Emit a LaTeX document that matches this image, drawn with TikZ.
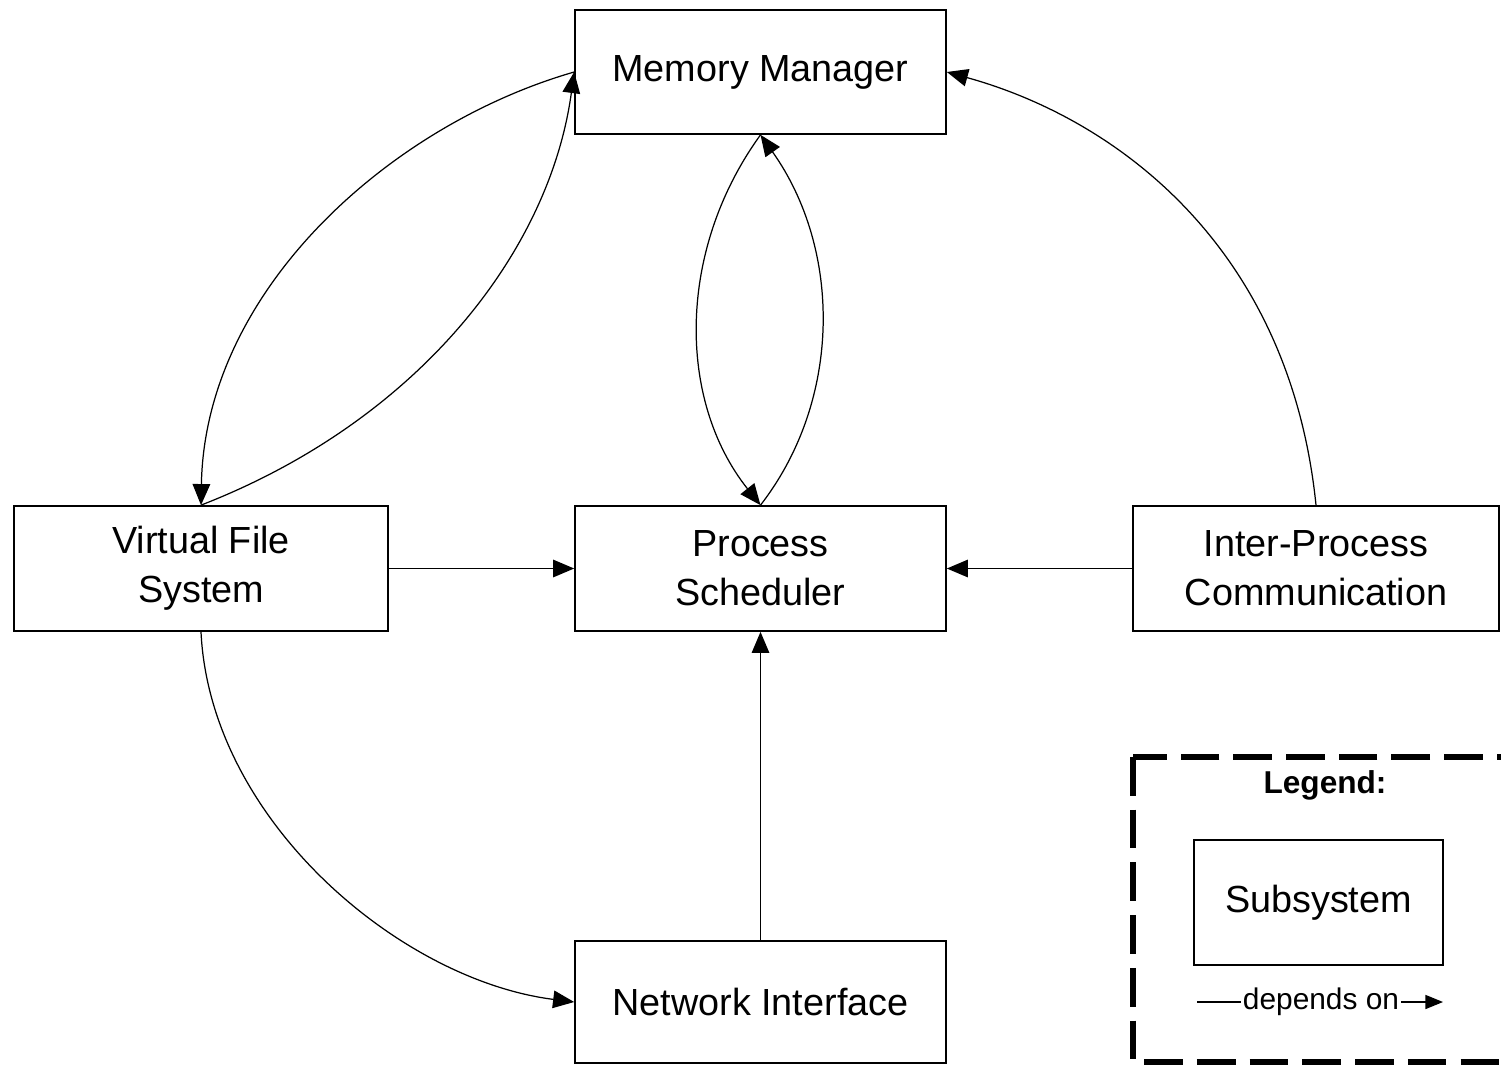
\documentclass[tikz,border=0pt]{standalone}
\usepackage{fontspec}
\setmainfont{Liberation Sans}
\usetikzlibrary{arrows.meta,calc}
\begin{document}
\begin{tikzpicture}[x=0.02cm,y=-0.02cm,
  sub/.style={draw,line width=1pt,inner sep=0pt,align=center,
    font=\fontsize{21.5}{28}\selectfont,minimum width=7.42cm,minimum height=2.5cm},
  arr/.style={line width=0.7pt,-{Triangle[length=12pt,width=10pt]}},
  legendbox/.style={line width=3pt,dash pattern=on 22pt off 8pt}]
\useasboundingbox (0,0) rectangle (1501,1065);
\clip (0,0) rectangle (1501,1065);
\node[sub,minimum height=2.48cm] (mm) at (760.5,72) {Memory Manager};
\node[sub,minimum width=7.48cm] (vfs) at (201,568.5) {Virtual File\\System};
\node[sub] (ps) at (760.5,568.5) {Process\\Scheduler};
\node[sub,minimum width=7.32cm] (ipc) at (1316,568.5) {Inter-Process\\Communication};
\node[sub,minimum height=2.44cm] (ni) at (760.5,1002) {Network Interface};
% connectors
\draw[arr] (mm.west) .. controls (390,125) and (205,290) .. (vfs.north);
\draw[arr] (vfs.north) .. controls (420,420) and (550,250) .. (mm.west);
\draw[arr] (mm.south) .. controls (677,250) and (677,400) .. (ps.north);
\draw[arr] (ps.north) .. controls (842,400) and (842,250) .. (mm.south);
\draw[arr] (ipc.north) .. controls (1290,250) and (1120,120) .. (mm.east);
\draw[arr] (vfs.east) -- (ps.west);
\draw[arr] (ipc.west) -- (ps.east);
\draw[arr] (ni.north) -- (ps.south);
\draw[arr] (vfs.south) .. controls (210,820) and (400,980) .. (ni.west);
% legend
\draw[legendbox] (1133,757) rectangle (1530,1062);
\node[font=\bfseries\fontsize{18}{22}\selectfont] (leg) at (1325,785) {Legend:};
\node[sub,minimum width=4.98cm] (subs) at (1318.5,902.5) {Subsystem};
\coordinate (l1) at (1197,1002);
\coordinate (l2) at (1443,1002);
\node[font=\fontsize{17}{20}\selectfont,inner sep=1pt] (dep) at (1321,1002) {depends on};
\draw[line width=0.7pt] (l1) -- (dep.west);
\draw[line width=0.7pt,-{Triangle[length=10pt,width=8pt]}] (dep.east) -- (l2);
\end{tikzpicture}
\end{document}
